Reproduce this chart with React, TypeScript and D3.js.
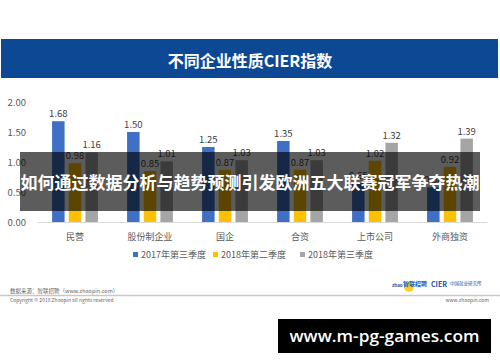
import React, { useEffect, useRef } from "react";
import * as d3 from "d3";

const categories = ["民营", "股份制企业", "国企", "合资", "上市公司", "外商独资"];
const seriesNames = ["2017年第三季度", "2018年第二季度", "2018年第三季度"];
const q3_2017 = [1.68, 1.5, 1.25, 1.35, 0.65, 0.58];
const q2_2018 = [0.98, 0.85, 0.87, 0.87, 1.02, 0.92];
const q3_2018 = [1.16, 1.01, 1.03, 1.03, 1.32, 1.39];
const yTicks = [0, 0.5, 1, 1.5, 2];
const colors = ["#3f70c6", "#ffc000", "#a5a5a5"];

const FONT = "'Noto Sans CJK SC', 'Noto Sans', sans-serif";

const drawChart = (svgEl: SVGSVGElement) => {
  const svg = d3.select(svgEl);
  svg.selectAll("*").remove();

  const series = [q3_2017, q2_2018, q3_2018];

  svg.append("rect").attr("width", 500).attr("height", 362).attr("fill", "#fff");

  // header bar
  svg.append("rect")
    .attr("x", 1).attr("y", 39).attr("width", 497).attr("height", 39)
    .attr("fill", "#0d4894");
  svg.append("text")
    .attr("x", 250).attr("y", 66.5)
    .attr("text-anchor", "middle")
    .attr("font-family", FONT).attr("font-size", 16).attr("font-weight", "bold")
    .attr("fill", "#fff")
    .text("不同企业性质CIER指数");

  const y = d3.scaleLinear().domain([0, 2]).range([222, 102]);
  const x0 = d3.scaleBand<string>()
    .domain(categories)
    .range([37.5, 487.5])
    .paddingInner(1 / 3)
    .paddingOuter(1 / 6);
  const x1 = d3.scaleBand<number>()
    .domain([0, 1, 2])
    .range([0, x0.bandwidth()])
    .paddingInner(0.25)
    .paddingOuter(0.125);

  // y axis labels
  svg.append("g")
    .selectAll("text")
    .data(yTicks)
    .enter()
    .append("text")
    .attr("x", 26)
    .attr("y", (d) => y(d) + 3.5)
    .attr("text-anchor", "end")
    .attr("font-family", FONT).attr("font-size", 9.5)
    .attr("fill", "#595959")
    .text((d) => d3.format(".2f")(d));

  // baseline
  svg.append("line")
    .attr("x1", 37.5).attr("x2", 487.5)
    .attr("y1", y(0) + 0.5).attr("y2", y(0) + 0.5)
    .attr("stroke", "#d9d9d9");

  const groups = svg.append("g")
    .selectAll("g")
    .data(categories)
    .enter()
    .append("g")
    .attr("transform", (c) => `translate(${x0(c)},0)`);

  groups.selectAll("rect")
    .data((_, i) => series.map((s, k) => ({ k, v: s[i] })))
    .enter()
    .append("rect")
    .attr("x", (d) => x1(d.k) || 0)
    .attr("width", x1.bandwidth())
    .attr("y", (d) => y(d.v))
    .attr("height", (d) => y(0) - y(d.v))
    .attr("fill", (d) => colors[d.k]);

  groups.selectAll("text.val")
    .data((_, i) => series.map((s, k) => ({ k, v: s[i] })))
    .enter()
    .append("text")
    .attr("class", "val")
    .attr("x", (d) => (x1(d.k) || 0) + x1.bandwidth() / 2)
    .attr("y", (d) => y(d.v) - 4)
    .attr("text-anchor", "middle")
    .attr("font-family", FONT).attr("font-size", 9.5)
    .attr("fill", "#404040")
    .text((d) => d3.format(".2f")(d.v));

  // category labels
  svg.append("g")
    .selectAll("text")
    .data(categories)
    .enter()
    .append("text")
    .attr("x", (c) => (x0(c) || 0) + x0.bandwidth() / 2)
    .attr("y", 240)
    .attr("text-anchor", "middle")
    .attr("font-family", FONT).attr("font-size", 9)
    .attr("fill", "#595959")
    .text((c) => c);

  // legend
  const legendX = [133, 213, 300];
  const legend = svg.append("g")
    .selectAll("g")
    .data(seriesNames)
    .enter()
    .append("g")
    .attr("transform", (_, i) => `translate(${legendX[i]},255)`);
  legend.append("rect")
    .attr("x", 0).attr("y", -3).attr("width", 5).attr("height", 5)
    .attr("fill", (_, i) => colors[i]);
  legend.append("text")
    .attr("x", 8).attr("y", 3)
    .attr("font-family", FONT).attr("font-size", 9)
    .attr("fill", "#595959")
    .text((d) => d);

  // footer
  svg.append("text")
    .attr("x", 10).attr("y", 293)
    .attr("font-family", FONT).attr("font-size", 5.5)
    .attr("fill", "#666")
    .text("数据来源：智联招聘（www.zhaopin.com）");
  svg.append("line")
    .attr("x1", 0).attr("x2", 500).attr("y1", 295.5).attr("y2", 295.5)
    .attr("stroke", "#c8c8c8").attr("stroke-width", 1.5);
  svg.append("text")
    .attr("x", 10).attr("y", 301.5)
    .attr("font-family", FONT).attr("font-size", 5)
    .attr("fill", "#666")
    .text("Copyright © 2018 Zhaopin all rights reserved");
  svg.append("text")
    .attr("x", 489).attr("y", 302)
    .attr("text-anchor", "end")
    .attr("font-family", FONT).attr("font-size", 5)
    .attr("fill", "#666")
    .text("www.zhaopin.com");

  // logos
  svg.append("circle").attr("cx", 409).attr("cy", 287).attr("r", 5).attr("fill", "#ffd21f");
  svg.append("text")
    .attr("x", 392).attr("y", 287)
    .attr("font-family", FONT).attr("font-size", 4.5).attr("font-weight", "bold")
    .attr("fill", "#1b4f9c")
    .text("zhao");
  svg.append("text")
    .attr("x", 403).attr("y", 286)
    .attr("font-family", FONT).attr("font-size", 6).attr("font-weight", "bold")
    .attr("fill", "#1b5fc4")
    .text("智联招聘");
  svg.append("text")
    .attr("x", 431).attr("y", 287)
    .attr("font-family", FONT).attr("font-size", 7).attr("font-weight", "bold")
    .attr("fill", "#1b4f9c")
    .text("CIER");
  svg.append("text")
    .attr("x", 450).attr("y", 285)
    .attr("font-family", FONT).attr("font-size", 4.5)
    .attr("fill", "#1b4f9c")
    .text("中国就业研究所");

  // overlay band
  svg.append("rect")
    .attr("x", 20).attr("y", 152).attr("width", 460).attr("height", 59)
    .attr("fill", "#000").attr("fill-opacity", 0.64);
  svg.append("text")
    .attr("x", 250).attr("y", 189)
    .attr("text-anchor", "middle")
    .attr("font-family", FONT).attr("font-size", 17).attr("font-weight", "bold")
    .attr("fill", "#fff")
    .text("如何通过数据分析与趋势预测引发欧洲五大联赛冠军争夺热潮");

  // bottom watermark
  svg.append("rect")
    .attr("x", 278).attr("y", 319).attr("width", 213).attr("height", 34)
    .attr("fill", "#000");
  svg.append("text")
    .attr("x", 384.5).attr("y", 342)
    .attr("text-anchor", "middle")
    .attr("font-family", "'Open Sans', 'DejaVu Sans', sans-serif")
    .attr("font-size", 17).attr("font-weight", 600)
    .attr("textLength", 190).attr("lengthAdjust", "spacingAndGlyphs")
    .attr("fill", "#fff")
    .text("www.m-pg-games.com");
};

const App = () => {
  const ref = useRef<SVGSVGElement>(null);

  useEffect(() => {
    if (ref.current) drawChart(ref.current);
  }, []);

  return (
    <svg
      ref={ref}
      width={500}
      height={362}
      style={{ position: "absolute", left: 0, top: 0, display: "block" }}
    ></svg>
  );
};

export default App;
